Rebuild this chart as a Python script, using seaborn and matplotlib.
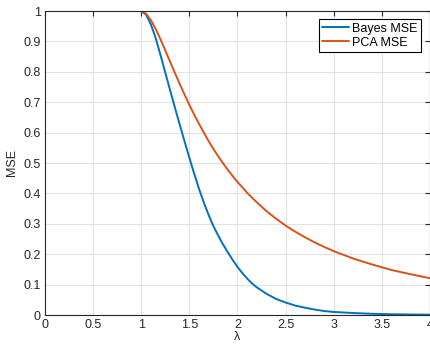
import matplotlib
matplotlib.use("Agg")
import matplotlib.pyplot as plt
import seaborn as sns
import pandas as pd

# values
lam = [0.0, 0.5, 1.0, 1.05, 1.10, 1.15, 1.20, 1.25, 1.30, 1.35, 1.40, 1.45,
       1.50, 1.55, 1.60, 1.65, 1.70, 1.75, 1.80, 1.85, 1.90, 1.95, 2.00,
       2.05, 2.10, 2.15, 2.20, 2.30, 2.40, 2.50, 2.60, 2.70, 2.80, 2.90, 3.00,
       3.20, 3.40, 3.60, 3.80, 4.00]
bayes_mse = [1.0, 1.0, 1.0, 0.988, 0.956, 0.911, 0.855, 0.797, 0.739, 0.682,
             0.626, 0.571, 0.517, 0.465, 0.415, 0.370, 0.329, 0.292, 0.261,
             0.232, 0.206, 0.181, 0.158, 0.138, 0.120, 0.104, 0.091, 0.070,
             0.053, 0.041, 0.031, 0.024, 0.018, 0.013, 0.010, 0.0065, 0.004,
             0.0025, 0.0017, 0.0011]
pca_mse = [1.0, 1.0, 1.0, 0.991, 0.970, 0.941, 0.907, 0.870, 0.833, 0.796,
           0.760, 0.725, 0.691, 0.659, 0.629, 0.600, 0.572, 0.546, 0.522,
           0.499, 0.477, 0.457, 0.4375, 0.420, 0.402, 0.386, 0.371, 0.342,
           0.317, 0.294, 0.274, 0.256, 0.239, 0.224, 0.210, 0.186, 0.166,
           0.148, 0.134, 0.121]
series_names = ["Bayes MSE", "PCA MSE"]
x_ticks = [0, 0.5, 1, 1.5, 2, 2.5, 3, 3.5, 4]
x_tick_labels = ["0", "0.5", "1", "1.5", "2", "2.5", "3", "3.5", "4"]
y_ticks = [0, 0.1, 0.2, 0.3, 0.4, 0.5, 0.6, 0.7, 0.8, 0.9, 1]
y_tick_labels = ["0", "0.1", "0.2", "0.3", "0.4", "0.5", "0.6", "0.7", "0.8", "0.9", "1"]

df = pd.concat([
    pd.DataFrame({"lam": lam, "mse": bayes_mse, "series": series_names[0]}),
    pd.DataFrame({"lam": lam, "mse": pca_mse, "series": series_names[1]}),
])

sns.set_theme(style="white")
plt.rcParams["font.family"] = ["Liberation Sans", "DejaVu Sans"]

fig = plt.figure(figsize=(4.31, 3.45), dpi=100)
ax = fig.add_axes([45 / 431, 30 / 345, 385 / 431, 304 / 345])

dark = "#262626"
sns.lineplot(data=df, x="lam", y="mse", hue="series",
             palette=["#0072BD", "#D95319"], linewidth=1.4, ax=ax,
             sort=False, estimator=None)

ax.set_xlim(0, 4)
ax.set_ylim(0, 1)
ax.set_xticks(x_ticks)
ax.set_xticklabels(x_tick_labels)
ax.set_yticks(y_ticks)
ax.set_yticklabels(y_tick_labels)
ax.grid(True, color="#e3e3e3", linewidth=0.8)
ax.set_axisbelow(True)
for s in ax.spines.values():
    s.set_visible(True)
    s.set_color(dark)
    s.set_linewidth(0.8)
ax.tick_params(direction="in", length=3.5, width=0.8, color=dark,
               labelcolor=dark, labelsize=9, top=True, right=True,
               labeltop=False, labelright=False, pad=3)
ax.set_xlabel("λ", fontsize=9, color=dark, labelpad=0)
ax.set_ylabel("MSE", fontsize=9, color=dark, labelpad=4)

leg = ax.legend(loc="upper right", bbox_to_anchor=(1 - 9 / 385, 1 - 8 / 304),
                borderaxespad=0, fancybox=False, edgecolor="black",
                fontsize=9, handlelength=2.1, handletextpad=0.25,
                borderpad=0.3, labelspacing=0.15, framealpha=1)
leg.get_frame().set_linewidth(0.8)
for t in leg.get_texts():
    t.set_color("black")

fig.savefig("out.png", dpi=100)
